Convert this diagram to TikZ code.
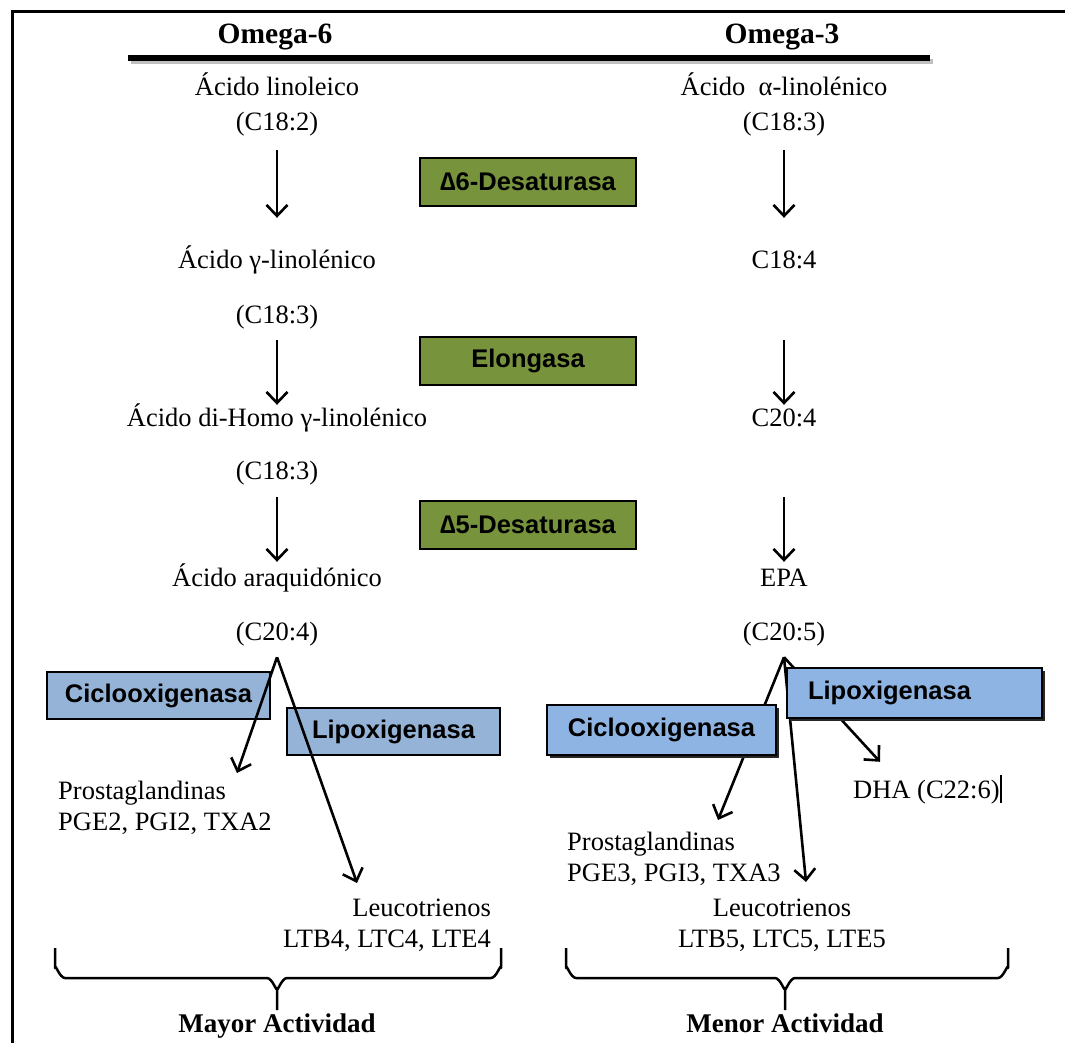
\documentclass[tikz,border=0pt]{standalone}
\usepackage{xcolor}
\usepackage{tikz}
\usepackage{fontspec}
\setmainfont{Liberation Serif}
\newfontfamily\enzfont{Liberation Sans}
\usetikzlibrary{arrows.meta,positioning,calc,shadows}
\definecolor{olivebox}{HTML}{77933C}
\definecolor{bluebox}{HTML}{95B3D7}
\definecolor{blueboxb}{HTML}{8EB4E3}

\begin{document}
\begin{tikzpicture}[
    x=1pt, y=-1pt,
    txt/.style={
        font=\fontsize{26.5}{31}\selectfont,
        inner sep=0pt,
        text height=18pt,
        text depth=6pt
    },
    multi/.style={
        font=\fontsize{26.5}{31}\selectfont,
        inner sep=0pt
    },
    title/.style={
        font=\fontsize{29.5}{34}\selectfont\bfseries,
        inner sep=0pt,
        text height=20pt,
        text depth=7pt
    },
    foot/.style={
        font=\fontsize{27}{32}\selectfont\bfseries,
        inner sep=0pt,
        text height=19pt,
        text depth=6pt
    },
    enz/.style={
        draw,
        line width=1.2pt,
        fill=olivebox,
        minimum width=216pt,
        minimum height=48pt,
        font=\enzfont\bfseries\fontsize{25.5}{29}\selectfont
    },
    enzb/.style={
        draw,
        line width=1.2pt,
        fill=bluebox,
        minimum height=47pt,
        font=\enzfont\bfseries\fontsize{25.5}{29}\selectfont
    },
    shad/.style={
        fill=blueboxb,
        minimum height=50pt,
        drop shadow={shadow xshift=3pt, shadow yshift=-3pt, fill=black!85, opacity=1}
    },
    arrow/.style={-{Straight Barb[length=11pt, width=21pt]}, line width=2.6pt},
    curly/.style={line width=2.5pt, line join=round}
]
\useasboundingbox (0,0) rectangle (1065,1043);

% frame and header
\draw[line width=3pt] (12,1043) -- (12,12) -- (1065,12);
\node[title] (om6) at (275,37) {Omega-6};
\node[title] (om3) at (782,37) {Omega-3};
\draw[line width=5pt, black!25] (131,62) -- (933,62);
\draw[line width=6pt] (128,58) -- (930,58);

% omega-6 column
\node[txt] (l1a) at (277,90) {Ácido linoleico};
\node[txt] (l1b) at (277,125) {(C18:2)};
\node[txt] (l2a) at (277,262) {Ácido γ-linolénico};
\node[txt] (l2b) at (277,317) {(C18:3)};
\node[txt] (l3a) at (277,420) {Ácido di-Homo γ-linolénico};
\node[txt] (l3b) at (277,473) {(C18:3)};
\node[txt] (l4a) at (277,580) {Ácido araquidónico};
\node[txt] (l4b) at (277,634) {(C20:4)};

% omega-3 column
\node[txt] (r1a) at (784,90) {Ácido\ \ α-linolénico};
\node[txt] (r1b) at (784,125) {(C18:3)};
\node[txt] (r2) at (784,262) {C18:4};
\node[txt] (r3) at (784,420) {C20:4};
\node[txt] (r4a) at (784,580) {EPA};
\node[txt] (r4b) at (784,634) {(C20:5)};

% enzymes
\node[enz] (d6) at (528,182) {∆6-Desaturasa};
\node[enz] (elo) at (528,361) {Elongasa};
\node[enz] (d5) at (528,525) {∆5-Desaturasa};

\draw[arrow, shorten <=13pt, shorten >=32pt] (l1b) -- (l2a);
\draw[arrow, shorten <=11pt, shorten >=3pt] (l2b) -- (l3a);
\draw[arrow, shorten <=12pt, shorten >=6pt] (l3b) -- (l4a);
\draw[arrow, shorten <=13pt, shorten >=32pt] (r1b) -- (r2);
\draw[arrow, shorten <=66pt, shorten >=3pt] (r2) -- (r3);
\draw[arrow, shorten <=65pt, shorten >=6pt] (r3) -- (r4a);

% products
\coordinate[below=11pt of l4b] (lapex);
\coordinate[below=11pt of r4b] (rapex);
\node[multi, align=left, anchor=north west] (lprost) at (58,781) {Prostaglandinas\\PGE2, PGI2, TXA2};
\node[multi, align=right, anchor=north east] (lleuco) at (491,899) {Leucotrienos\\LTB4, LTC4, LTE4};
\node[multi, align=left, anchor=north west] (rprost) at (567,832) {Prostaglandinas\\PGE3, PGI3, TXA3};
\node[multi, align=center, anchor=north] (rleuco) at (782,899) {Leucotrienos\\LTB5, LTC5, LTE5};
\node[txt, anchor=west] (rdha) at (853,792) {DHA (C22:6)\rule[-5pt]{2.5pt}{28pt}};

% omega-6 branches
\node[enzb, minimum width=223pt] (lcox) at (158.5,695.5) {Ciclooxigenasa};
\node[enzb, minimum width=213pt] (llox) at (393.5,731.5) {Lipoxigenasa};
\draw[arrow] (lapex) -- ($(lprost.north west)+(179,-8)$);
\draw[arrow] (lapex) -- ($(lleuco.north east)+(-134,-16)$);

% omega-3 branches
\draw[arrow] (rapex) -- ($(rprost.north west)+(151,-12)$);
\draw[arrow] (rapex) -- ($(rleuco.north)+(24,-17)$);
\draw[arrow] (rapex) -- ($(rdha.north west)+(27,-18)$);
\node[enzb, shad, minimum width=229pt] (rcox) at (661.5,730) {Ciclooxigenasa};
\node[enzb, shad, text width=213pt, inner xsep=21pt, align=left] (rlox) at (914.5,693) {Lipoxigenasa};

% braces
\draw[curly] (55,948) -- (55,968) to[out=90,in=180] (65,978) -- (267,978) to[out=0,in=-90] (277,988) -- (277,1010);
\draw[curly] (277,988) to[out=-90,in=180] (287,978) -- (491,978) to[out=0,in=90] (501,968) -- (501,948);
\draw[curly] (566,948) -- (566,968) to[out=90,in=180] (576,978) -- (775,978) to[out=0,in=-90] (785,988) -- (785,1010);
\draw[curly] (785,988) to[out=-90,in=180] (795,978) -- (998,978) to[out=0,in=90] (1008,968) -- (1008,948);
\node[foot] (mayor) at (277,1026) {Mayor Actividad};
\node[foot] (menor) at (785,1026) {Menor Actividad};
\end{tikzpicture}
\end{document}
